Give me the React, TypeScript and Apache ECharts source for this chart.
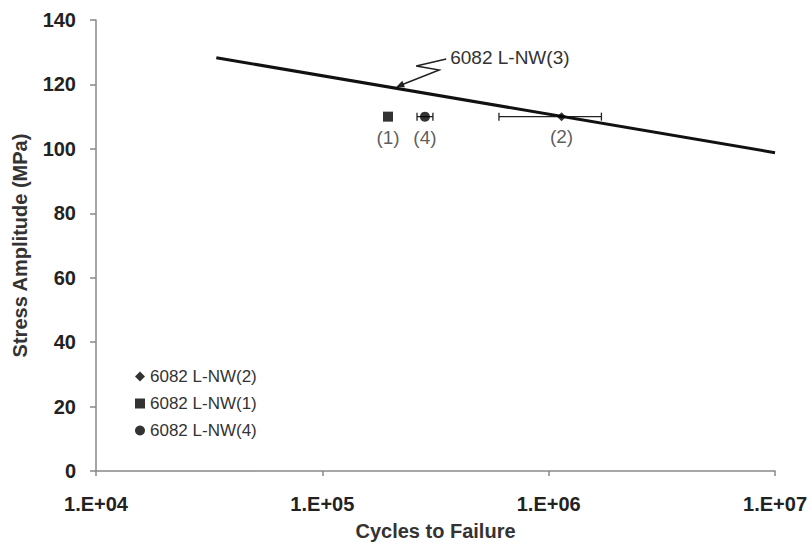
import React, { useEffect, useRef } from "react";
import * as echarts from "echarts";

const FONT = "'Liberation Sans', Arial, sans-serif";

// Fitted S-N curve for 6082 L-NW(3)
const fitCurve: [number, number][] = [
  [3.4e4, 128.3],
  [1e7, 98.8],
];
// Experimental points
const pointNW2: [number, number][] = [[1.14e6, 110]];
const pointNW1: [number, number][] = [[1.95e5, 110]];
const pointNW4: [number, number][] = [[2.84e5, 110]];
// Error bars: [low cycles, high cycles, stress]
const errorBars: [number, number, number][] = [
  [6.03e5, 1.71e6, 110],
  [2.62e5, 3.08e5, 110],
];
const annotationText = "6082 L-NW(3)";
const annotationTarget: [number, number] = [2.12e5, 119.2];
const yTicks = [0, 20, 40, 60, 80, 100, 120, 140];

export default function App() {
  const ref = useRef<HTMLDivElement>(null);
  useEffect(() => {
    if (!ref.current) return;
    const chart = echarts.init(ref.current, null, { renderer: "svg" });
    const pointLabel = (txt: string) => ({
      show: true,
      position: "bottom",
      distance: 6,
      formatter: txt,
      fontSize: 19,
      color: "#333",
      fontFamily: FONT,
    });
    chart.setOption({
      animation: false,
      backgroundColor: "#fff",
      grid: { left: 96, right: 33, top: 20, bottom: 74 },
      legend: {
        orient: "vertical",
        left: 130,
        top: 363,
        itemGap: 10,
        itemWidth: 10,
        itemHeight: 10,
        textStyle: { fontSize: 17, color: "#333", fontFamily: FONT },
        data: [
          { name: "6082 L-NW(2)", icon: "diamond" },
          { name: "6082 L-NW(1)", icon: "rect" },
          { name: "6082 L-NW(4)", icon: "circle" },
        ],
      },
      xAxis: {
        type: "log",
        logBase: 10,
        min: 1e4,
        max: 1e7,
        name: "Cycles to Failure",
        nameLocation: "middle",
        nameGap: 50,
        nameTextStyle: { fontSize: 20, fontWeight: "bold", color: "#333", fontFamily: FONT },
        axisLine: { lineStyle: { color: "#888", width: 1.5 } },
        axisTick: { inside: false, length: 5, lineStyle: { color: "#888", width: 1.5 } },
        minorTick: { show: false },
        splitLine: { show: false },
        axisLabel: {
          fontSize: 20,
          fontWeight: "bold",
          color: "#222",
          fontFamily: FONT,
          margin: 23,
          formatter: (v: number) => "1.E+0" + Math.round(Math.log10(v)),
        },
      },
      yAxis: {
        type: "value",
        min: 0,
        max: 140,
        interval: 20,
        name: "Stress Amplitude (MPa)",
        nameLocation: "middle",
        nameGap: 66,
        nameTextStyle: { fontSize: 20, fontWeight: "bold", color: "#333", fontFamily: FONT },
        axisLine: { show: true, lineStyle: { color: "#888", width: 1.5 } },
        axisTick: { show: true, length: 6, lineStyle: { color: "#888", width: 1.5 } },
        splitLine: { show: false },
        axisLabel: {
          fontSize: 20,
          fontWeight: "bold",
          color: "#222",
          fontFamily: FONT,
          margin: 20,
          formatter: (v: number) => (yTicks.includes(v) ? String(v) : ""),
        },
      },
      series: [
        {
          name: "fit",
          type: "line",
          data: fitCurve,
          symbol: "none",
          lineStyle: { color: "#111", width: 3 },
          z: 3,
        },
        {
          name: "errors",
          type: "custom",
          data: errorBars,
          encode: { x: [0, 1], y: 2 },
          renderItem: (params: any, api: any) => {
            const a = api.coord([api.value(0), api.value(2)]);
            const b = api.coord([api.value(1), api.value(2)]);
            const cap = 4;
            const style = { stroke: "#222", lineWidth: 1.3 };
            return {
              type: "group",
              children: [
                { type: "line", shape: { x1: a[0], y1: a[1], x2: b[0], y2: b[1] }, style },
                { type: "line", shape: { x1: a[0], y1: a[1] - cap, x2: a[0], y2: a[1] + cap }, style },
                { type: "line", shape: { x1: b[0], y1: b[1] - cap, x2: b[0], y2: b[1] + cap }, style },
              ],
            };
          },
          z: 2,
        },
        {
          name: "6082 L-NW(2)",
          type: "scatter",
          data: pointNW2,
          symbol: "diamond",
          symbolSize: 9,
          itemStyle: { color: "#000" },
          label: pointLabel("(2)"),
          z: 4,
        },
        {
          name: "6082 L-NW(1)",
          type: "scatter",
          data: pointNW1,
          symbol: "rect",
          symbolSize: 10,
          itemStyle: { color: "#000" },
          label: pointLabel("(1)"),
          z: 4,
        },
        {
          name: "6082 L-NW(4)",
          type: "scatter",
          data: pointNW4,
          symbol: "circle",
          symbolSize: 10,
          itemStyle: { color: "#000" },
          label: pointLabel("(4)"),
          z: 4,
        },
      ],
    });

    const tip = chart.convertToPixel({ gridIndex: 0 }, annotationTarget) as number[];
    const tx = tip[0];
    const ty = tip[1];
    const pts = [
      [tx + 50, ty - 28],
      [tx + 20, ty - 21],
      [tx + 43, ty - 17],
      [tx + 5, ty - 2],
    ];
    const dx = -43, dy = 17;
    const len = Math.hypot(dx, dy);
    const ux = dx / len, uy = dy / len;
    const L = 8, W = 3.5;
    const bx = tx - ux * L, by = ty - uy * L;
    chart.setOption({
      graphic: [
        {
          type: "polyline",
          shape: { points: pts },
          style: { stroke: "#222", lineWidth: 1.5, fill: "none" },
          z: 10,
        },
        {
          type: "polygon",
          shape: {
            points: [
              [tx, ty],
              [bx - uy * W, by + ux * W],
              [bx + uy * W, by - ux * W],
            ],
          },
          style: { fill: "#222" },
          z: 10,
        },
        {
          type: "text",
          x: tx + 54,
          y: ty - 30,
          style: {
            text: annotationText,
            fontSize: 19,
            fill: "#333",
            fontFamily: FONT,
            verticalAlign: "middle",
          },
          z: 10,
        },
      ],
    });
    return () => chart.dispose();
  }, []);
  return <div ref={ref} style={{ width: 810, height: 546, position: "absolute", left: 0, top: 0 }} />;
}
